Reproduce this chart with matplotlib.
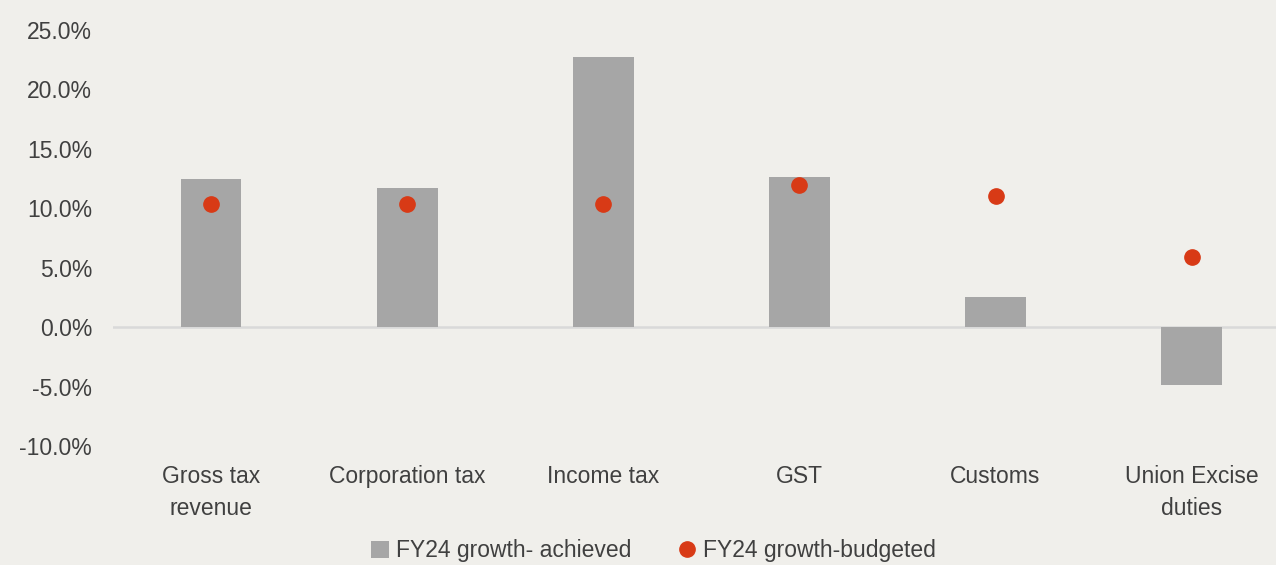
import numpy as np
import matplotlib.pyplot as plt
from matplotlib.ticker import PercentFormatter

plt.rcParams["font.family"] = ["Liberation Sans", "DejaVu Sans"]
plt.rcParams["axes.unicode_minus"] = False

# Data
categories = ["Gross tax\nrevenue", "Corporation tax", "Income tax", "GST",
              "Customs", "Union Excise\nduties"]
achieved = [12.5, 11.7, 22.7, 12.6, 2.5, -4.9]
budgeted = [10.4, 10.4, 10.4, 12.0, 11.0, 5.9]

bg = "#f0efeb"
bar_color = "#a6a6a6"
dot_color = "#d83a16"
text_color = "#404040"
fs = 16.5

fig = plt.figure(figsize=(12.76, 5.65), dpi=100, facecolor=bg)
ax = fig.add_axes([113 / 1276, 1 - 446 / 565, 1 - 113 / 1276, (446 - 30) / 565])
ax.set_facecolor(bg)

x = np.arange(len(categories))
bars = ax.bar(x, achieved, width=0.31, color=bar_color, zorder=2,
              label="FY24 growth- achieved")
dots, = ax.plot(x, budgeted, "o", ms=11, color=dot_color, zorder=3,
                label="FY24 growth-budgeted")
ax.axhline(0, color="#d9d9d9", lw=1.8, zorder=1)

ax.set_ylim(-10, 25)
ax.set_yticks(np.arange(-10, 26, 5))
ax.yaxis.set_major_formatter(PercentFormatter(decimals=1))
ax.set_xlim(-0.5, 5.43)
ax.set_xticks(x)
ax.set_xticklabels(categories, linespacing=1.45)

for s in ax.spines.values():
    s.set_visible(False)
ax.tick_params(length=0, labelsize=fs, colors=text_color)
ax.tick_params(axis="x", pad=14)
ax.tick_params(axis="y", pad=15)

leg = fig.legend([bars, dots], ["FY24 growth- achieved", "FY24 growth-budgeted"],
                 loc="center", bbox_to_anchor=(0.512, 1 - 551 / 565), ncol=2,
                 frameon=False, fontsize=fs, handlelength=0.8,
                 handletextpad=0.3, columnspacing=2.0, borderaxespad=0)
for t in leg.get_texts():
    t.set_color(text_color)

fig.savefig("out.png", dpi=100, facecolor=bg)
